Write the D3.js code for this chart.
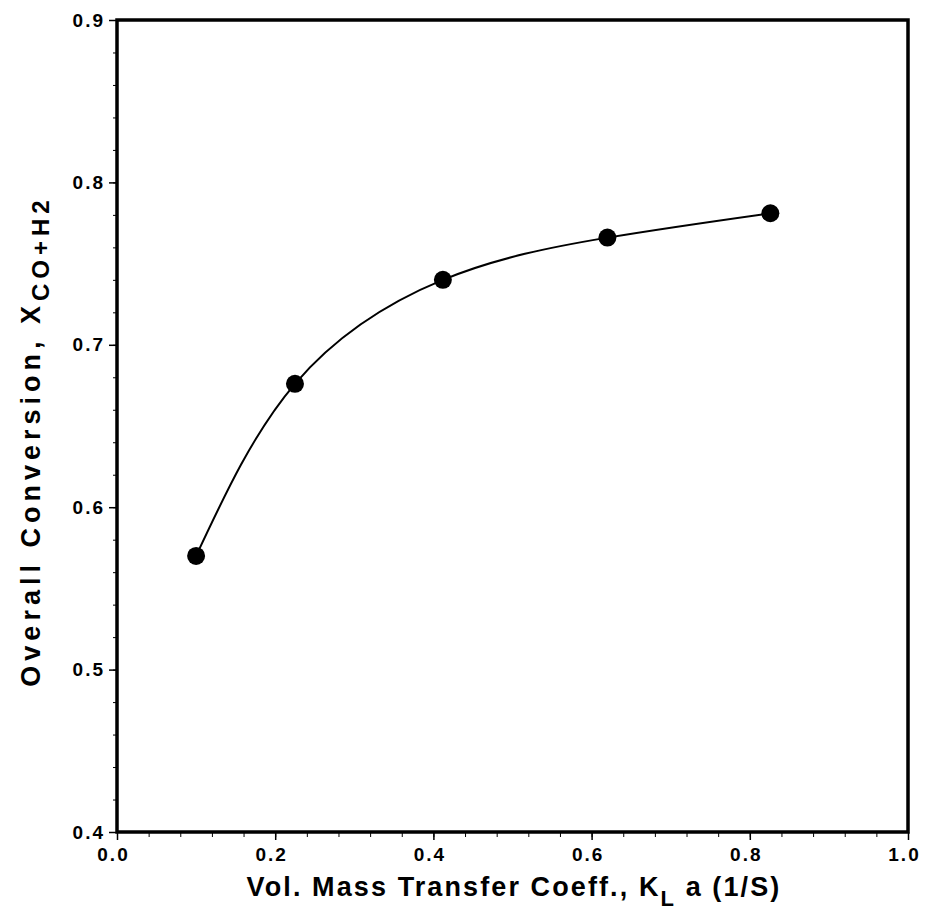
<!DOCTYPE html>
<html>
<head>
<meta charset="utf-8">
<script src="https://cdn.jsdelivr.net/npm/d3@7"></script>
<style>
  body { margin: 0; background: #fff; }
  svg text { font-family: "Liberation Sans", Arial, sans-serif; fill: #000; }
</style>
</head>
<body>
<svg id="chart" width="926" height="918"></svg>
<script>
const kla = [0.1, 0.225, 0.412, 0.62, 0.826];
const conversion = [0.570, 0.676, 0.740, 0.766, 0.781];
const xTicks = [0.0, 0.2, 0.4, 0.6, 0.8, 1.0];
const yTicks = [0.4, 0.5, 0.6, 0.7, 0.8, 0.9];

const margin = { top: 20, right: 18, bottom: 86, left: 117 };
const width = 926 - margin.left - margin.right;
const height = 918 - margin.top - margin.bottom;

const svg = d3.select("#chart");
const g = svg.append("g").attr("transform", `translate(${margin.left},${margin.top})`);

const x = d3.scaleLinear().domain([0, 1]).range([0, width]);
const y = d3.scaleLinear().domain([0.4, 0.9]).range([height, 0]);

// minor ticks
g.append("g")
  .attr("transform", `translate(0,${height})`)
  .call(d3.axisBottom(x).tickValues(d3.range(0, 1.001, 0.04)).tickSize(5).tickFormat(""))
  .call(s => s.select(".domain").remove());
g.append("g")
  .call(d3.axisLeft(y).tickValues(d3.range(0.4, 0.9001, 0.02)).tickSize(4).tickFormat(""))
  .call(s => s.select(".domain").remove());

// major ticks
const xAxis = g.append("g")
  .attr("transform", `translate(0,${height})`)
  .call(d3.axisBottom(x).tickValues(xTicks).tickSize(8).tickPadding(8).tickFormat(d3.format(".1f")));
const yAxis = g.append("g")
  .call(d3.axisLeft(y).tickValues(yTicks).tickSize(8).tickPadding(4).tickFormat(d3.format(".1f")));

[xAxis, yAxis].forEach(a => {
  a.selectAll("text").style("font-size", "19px").style("font-weight", "bold").style("letter-spacing", "2px");
  a.selectAll("line").attr("stroke-width", 1.5);
  a.select(".domain").remove();
});
xAxis.selectAll("text").attr("dx", "-4");

// frame
g.append("rect")
  .attr("x", 0).attr("y", 0)
  .attr("width", width).attr("height", height)
  .attr("fill", "none").attr("stroke", "#000").attr("stroke-width", 3.5);

const pts = kla.map((d, i) => [d, conversion[i]]);

const line = d3.line()
  .x(d => x(d[0]))
  .y(d => y(d[1]))
  .curve(d3.curveNatural);

g.append("path")
  .datum(pts)
  .attr("fill", "none")
  .attr("stroke", "#000")
  .attr("stroke-width", 2)
  .attr("d", line);

g.selectAll(".dot")
  .data(pts)
  .enter().append("circle")
  .attr("class", "dot")
  .attr("cx", d => x(d[0]))
  .attr("cy", d => y(d[1]))
  .attr("r", 9)
  .attr("fill", "#000");

// axis labels
const xl = svg.append("text")
  .attr("x", 514)
  .attr("y", 896)
  .attr("text-anchor", "middle")
  .style("font-size", "27px")
  .style("font-weight", "bold")
  .style("letter-spacing", "2.1px");
xl.append("tspan").text("Vol. Mass Transfer Coeff., K");
xl.append("tspan").attr("dy", 10).style("font-size", "22px").text("L");
xl.append("tspan").attr("dy", -10).text(" a (1/S)");

const yl = svg.append("text")
  .attr("transform", `translate(40,441) rotate(-90)`)
  .attr("text-anchor", "middle")
  .style("font-size", "27px")
  .style("font-weight", "bold")
  .style("letter-spacing", "5px");
yl.append("tspan").text("Overall Conversion, X");
yl.append("tspan").attr("dy", 9).style("font-size", "24px").text("CO+H2");
</script>
</body>
</html>
